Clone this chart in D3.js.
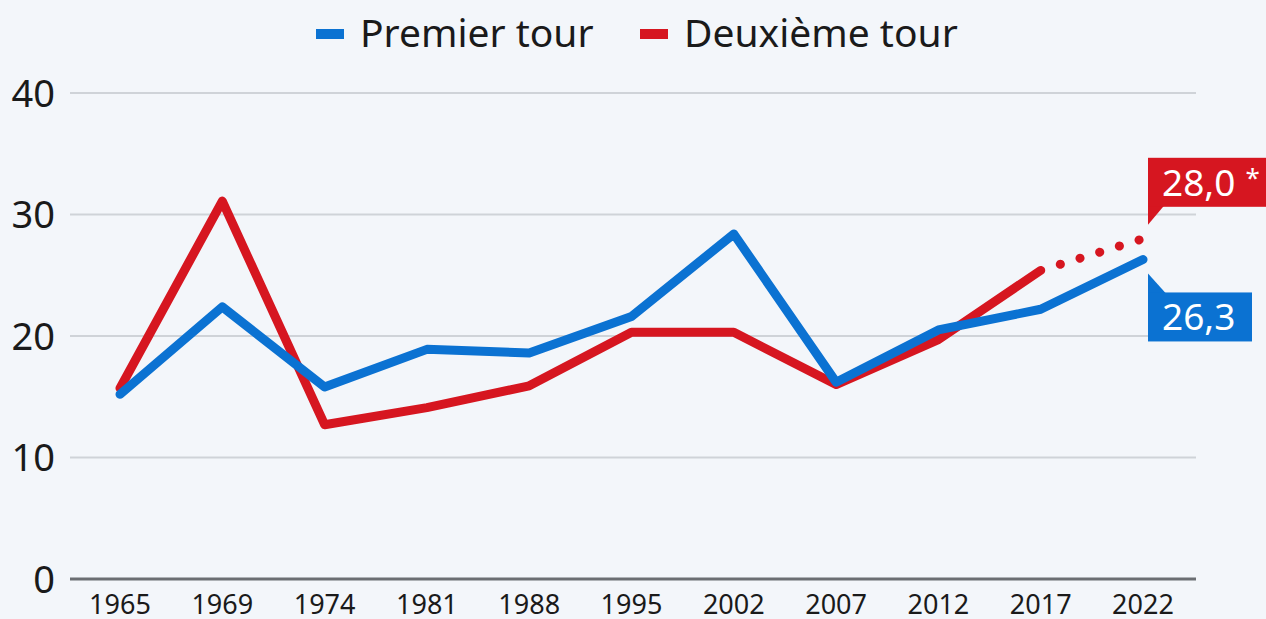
<!DOCTYPE html>
<html>
<head>
<meta charset="utf-8">
<script src="https://cdn.jsdelivr.net/npm/d3@7"></script>
<style>
  html, body { margin: 0; padding: 0; background: #f3f6fa; }
  svg { display: block; font-family: "Noto Sans", "Open Sans", sans-serif; }
</style>
</head>
<body>
<svg width="1266" height="619"></svg>
<script>
const years = ["1965", "1969", "1974", "1981", "1988", "1995", "2002", "2007", "2012", "2017", "2022"];
const premierTour = [15.2, 22.4, 15.8, 18.9, 18.6, 21.6, 28.4, 16.2, 20.5, 22.2, 26.3];
const deuxiemeTour = [15.7, 31.1, 12.7, 14.1, 15.9, 20.3, 20.3, 16.0, 19.7, 25.4, 28.0];
const yTicks = [0, 10, 20, 30, 40];
const seriesNames = ["Premier tour", "Deuxième tour"];
const colors = ["#0b72d2", "#d61620"];

const svg = d3.select("svg");
const margin = { top: 93, right: 70, bottom: 40, left: 70 };
const width = +svg.attr("width") - margin.left - margin.right;
const height = +svg.attr("height") - margin.top - margin.bottom;

const chart = svg.append("g")
  .attr("transform", `translate(${margin.left},${margin.top})`);

const x = d3.scalePoint()
  .domain(years)
  .range([50, 1073]);

const y = d3.scaleLinear()
  .domain([0, 40])
  .range([486, 0]);

// Grid
chart.append("g")
  .selectAll("line")
  .data(yTicks.filter(d => d > 0))
  .enter().append("line")
  .attr("x1", 0)
  .attr("x2", width)
  .attr("y1", d => y(d))
  .attr("y2", d => y(d))
  .attr("stroke", "#cfd3d8")
  .attr("stroke-width", 2);

chart.append("line")
  .attr("x1", 0).attr("x2", width)
  .attr("y1", y(0)).attr("y2", y(0))
  .attr("stroke", "#6b6e72")
  .attr("stroke-width", 3);

// Y labels
chart.append("g")
  .selectAll("text")
  .data(yTicks)
  .enter().append("text")
  .attr("x", -15)
  .attr("y", d => y(d))
  .attr("dy", "0.36em")
  .attr("text-anchor", "end")
  .attr("font-size", 38)
  .attr("fill", "#1a1a1a")
  .text(d => d);

// X labels
chart.append("g")
  .selectAll("text")
  .data(years)
  .enter().append("text")
  .attr("x", d => x(d))
  .attr("y", y(0) + 35)
  .attr("text-anchor", "middle")
  .attr("font-size", 27)
  .attr("fill", "#1a1a1a")
  .text(d => d);

const line = d3.line()
  .x(d => x(d.year))
  .y(d => y(d.value));

const p1 = years.map((yr, i) => ({ year: yr, value: premierTour[i] }));
const p2 = years.map((yr, i) => ({ year: yr, value: deuxiemeTour[i] }));

// Second round solid up to 2017, dotted to 2022
chart.append("path")
  .datum(p2.slice(0, 10))
  .attr("d", line)
  .attr("fill", "none")
  .attr("stroke", colors[1])
  .attr("stroke-width", 9)
  .attr("stroke-linejoin", "round")
  .attr("stroke-linecap", "round");

chart.append("path")
  .datum(p2.slice(9))
  .attr("d", line)
  .attr("fill", "none")
  .attr("stroke", colors[1])
  .attr("stroke-width", 9)
  .attr("stroke-linecap", "round")
  .attr("stroke-dasharray", "0.1 20.5")
  .attr("stroke-dashoffset", -20.5);

chart.append("path")
  .datum(p1)
  .attr("d", line)
  .attr("fill", "none")
  .attr("stroke", colors[0])
  .attr("stroke-width", 9)
  .attr("stroke-linejoin", "round")
  .attr("stroke-linecap", "round");

// Callouts
function callout(value, color, label, star, bw, up) {
  const bx = x("2022") + 5;
  const py = y(value);
  const g = chart.append("g");
  const bh = 49;
  const by = up ? py - 81 : py + 33;
  const tip = up
    ? `M${bx},${by + bh - 1} L${bx},${py - 14} L${bx + 16},${by + bh - 1} Z`
    : `M${bx},${by + 1} L${bx},${py + 14} L${bx + 18},${by + 1} Z`;
  g.append("path").attr("d", tip).attr("fill", color);
  g.append("rect")
    .attr("x", bx).attr("y", by)
    .attr("width", bw).attr("height", bh)
    .attr("fill", color);
  const t = g.append("text")
    .attr("x", bx + 14)
    .attr("y", by + bh / 2)
    .attr("dy", "0.36em")
    .attr("font-size", 37)
    .attr("fill", "#fff")
    .text(label);
  if (star) {
    t.append("tspan")
      .attr("dx", 10)
      .attr("dy", "-0.35em")
      .attr("font-size", 26)
      .text(star);
  }
}
callout(deuxiemeTour[10], colors[1], "28,0", "*", 130, true);
callout(premierTour[10], colors[0], "26,3", null, 104, false);

// Legend
const legend = svg.append("g");
const legendX = [316, 640];
seriesNames.forEach((name, i) => {
  legend.append("rect")
    .attr("x", legendX[i]).attr("y", 29)
    .attr("width", 28).attr("height", 10)
    .attr("fill", colors[i]);
  legend.append("text")
    .attr("x", legendX[i] + 44)
    .attr("y", 47)
    .attr("font-size", 39)
    .attr("fill", "#1a1a1a")
    .text(name);
});
</script>
</body>
</html>
